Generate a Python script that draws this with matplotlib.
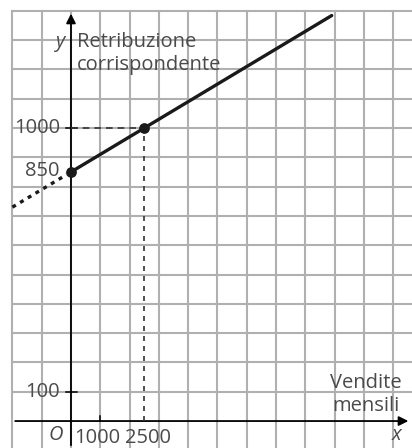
import matplotlib
matplotlib.use("Agg")
import matplotlib.pyplot as plt
import numpy as np

# data: retribuzione = 850 + 0.06 * vendite
x_known = [0, 2500]
y_known = [850, 1000]
x_line = [0, 8900]
x_dotted = [-2000, -150]
slope = 0.06
intercept = 850
y_ticks = [1000, 850, 100]
y_tick_labels = ["1000", "850", "100"]
x_ticks = [1000, 2500]
x_tick_labels = ["1000", "2500"]

x_cell, y_cell = 1000, 100
x_min, x_max = -2423, 11640
y_min, y_max = -92, 1437

fig = plt.figure(figsize=(4.12, 4.48), dpi=100)
ax = fig.add_axes([0, 0, 1, 1])
ax.set_xlim(x_min, x_max)
ax.set_ylim(y_min, y_max)
ax.axis("off")

grid_col = "#b0b0b0"
txt_col = "#4a4a4a"
font = "Open Sans"
fs = 14.5

# grid
for gx in np.arange(-2000, 12000, x_cell):
    ax.plot([gx, gx], [y_min, 1400], color=grid_col, lw=1.5, zorder=1)
for gy in np.arange(100, 1500, y_cell):
    ax.plot([-2000, x_max], [gy, gy], color=grid_col, lw=1.5, zorder=1)

# axes with arrows
ax.annotate("", xy=(x_max - 30, 0), xytext=(-2000, 0),
            arrowprops=dict(arrowstyle="-|>", color="black", lw=1.3, mutation_scale=14), zorder=3)
ax.annotate("", xy=(0, 1400), xytext=(0, y_min),
            arrowprops=dict(arrowstyle="-|>", color="black", lw=1.3, mutation_scale=14), zorder=3)

# ticks
for t in [1000, 100]:
    ax.plot([-180, 200], [t, t], color="black", lw=1.1, zorder=3)
ax.plot([1000, 1000], [0, 18], color="black", lw=1.1, zorder=3)

# reference dashed lines
ax.plot([0, x_known[1]], [y_known[1], y_known[1]], color="#333333", lw=1.2,
        ls=(0, (4, 3)), zorder=3)
ax.plot([x_known[1], x_known[1]], [0, y_known[1]], color="#333333", lw=1.2,
        ls=(0, (3, 3)), zorder=3)

# line
xl = np.array(x_line)
ax.plot(xl, intercept + slope * xl, color="#1a1a1a", lw=2.4, solid_capstyle="round", zorder=4)
xd = np.array(x_dotted)
ax.plot(xd, intercept + slope * xd, color="#1a1a1a", lw=2.4, ls=(0, (1.2, 1.5)), zorder=4)
ax.scatter(x_known, y_known, s=45, color="#1a1a1a", zorder=5)

# tick labels
for t, lab in zip(y_ticks, y_tick_labels):
    dy = 5 if t == 850 else 0
    ax.text(-380, t + dy, lab, ha="right", va="center", fontsize=fs,
            family=font, color=txt_col)
x_lab_pos = [890, 2630]
for t, lab in zip(x_lab_pos, x_tick_labels):
    ax.text(t, -58, lab, ha="center", va="center",
            fontsize=fs, family=font, color=txt_col)
ax.text(-270, -48, "O", ha="right", va="center", fontsize=fs, style="italic",
        family=font, color=txt_col)

# axis names
ax.text(-200, 1295, "y", ha="right", va="center", fontsize=fs, style="italic",
        family=font, color=txt_col)
ax.text(200, 1295, "Retribuzione", ha="left", va="center",
        fontsize=fs, family=font, color=txt_col)
ax.text(200, 1215, "corrispondente", ha="left", va="center",
        fontsize=fs, family=font, color=txt_col)
ax.text(11300, 130, "Vendite", ha="right", va="center",
        fontsize=fs, family=font, color=txt_col)
ax.text(11200, 52, "mensili", ha="right", va="center",
        fontsize=fs, family=font, color=txt_col)
ax.text(11100, -48, "x", ha="center", va="center", fontsize=fs, style="italic",
        family=font, color=txt_col)

fig.savefig("out.png", dpi=100, facecolor="white")
